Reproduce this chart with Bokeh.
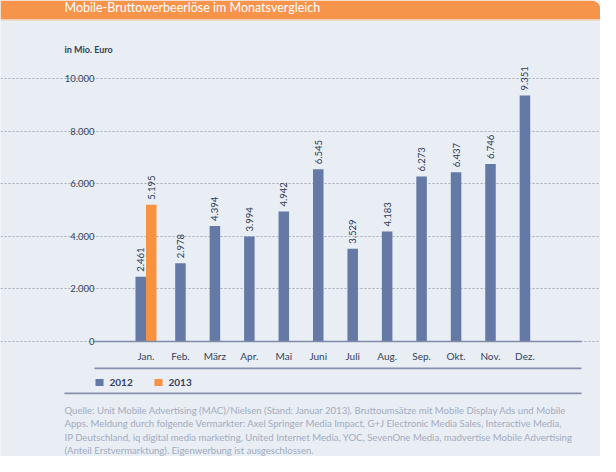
import math
from bokeh.plotting import figure
from bokeh.models import (Label, BoxAnnotation, ColumnDataSource, Range1d, FixedTicker,
                          LinearAxis, Grid)
from bokeh.core.properties import value
from bokeh.embed import file_html
from bokeh.resources import INLINE

# ---------------- data ----------------
months = ["Jan.", "Feb.", "März", "Apr.", "Mai", "Juni", "Juli", "Aug.", "Sep.", "Okt.", "Nov.", "Dez."]
values_2012 = [2461, 2978, 4394, 3994, 4942, 6545, 3529, 4183, 6273, 6437, 6746, 9351]
values_2013 = [5195]  # only January available
series_names = ["2012", "2013"]
y_ticks = [0, 2000, 4000, 6000, 8000, 10000]
title_text = "Mobile-Bruttowerbeerlöse im Monatsvergleich"
unit_text = "in Mio. Euro"
footnote_lines = [
    "Quelle: Unit Mobile Advertising (MAC)/Nielsen (Stand: Januar 2013). Bruttoumsätze mit Mobile Display Ads und Mobile",
    "Apps. Meldung durch folgende Vermarkter: Axel Springer Media Impact, G+J Electronic Media Sales, Interactive Media,",
    "IP Deutschland, iq digital media marketing, United Internet Media, YOC, SevenOne Media, madvertise Mobile Advertising",
    "(Anteil Erstvermarktung). Eigenwerbung ist ausgeschlossen.",
]

# ---------------- styling ----------------
FONT = "Lato"
BG = "#E9EDF4"
ORANGE_BAR = "#F7923E"
TITLE_BAR = "#F7944C"
BLUE = "#6479A6"
DARK = "#34435C"
AXIS = "#7F8CA6"
GRID = "#A3ABBD"
RULE = "#8692AB"
NOTE = "#A3ACBF"

W, H = 600, 456
CAT_W = 34.45          # pixels per month
JAN_PX = 145.5         # pixel centre of January
ZERO_PX = 341          # pixel row of the value 0
PX_PER_10K = 263       # pixels for 10.000
LEFT_PX, RIGHT_PX = 94, 581   # extent of the plotting area


def Xd(px):
    return (px - JAN_PX) / CAT_W


def Yd(py):
    return (ZERO_PX - py) * 10000 / PX_PER_10K


def fmt(v):
    return f"{v:,}".replace(",", ".")


p = figure(width=W, height=H, x_range=Range1d(Xd(0), Xd(W)), y_range=Range1d(Yd(H), Yd(0)),
           x_axis_type=None, y_axis_type=None, output_backend="svg", toolbar_location=None,
           min_border=0)
p.background_fill_color = BG
p.border_fill_color = BG
p.outline_line_color = None

# ---------------- grid & axes ----------------
yticker = FixedTicker(ticks=y_ticks)
xticker = FixedTicker(ticks=list(range(len(months))))
p.add_layout(Grid(dimension=1, ticker=yticker, bounds=(Xd(LEFT_PX), Xd(RIGHT_PX)),
                  grid_line_color=GRID, grid_line_dash="2 2", grid_line_width=1))

bw = 0.305
x12 = [i - bw / 2 if i < len(values_2013) else i for i in range(len(months))]
x13 = [i + bw / 2 for i in range(len(values_2013))]
src12 = ColumnDataSource(dict(x=x12, top=values_2012, lbl=[fmt(v) for v in values_2012]))
src13 = ColumnDataSource(dict(x=x13, top=values_2013, lbl=[fmt(v) for v in values_2013]))
p.vbar(x="x", top="top", bottom=0, width=bw, source=src12, fill_color=BLUE, line_color=None)
p.vbar(x="x", top="top", bottom=0, width=bw, source=src13, fill_color=ORANGE_BAR, line_color=None)
for s in (src12, src13):
    p.text(x="x", y="top", text="lbl", source=s, angle=math.pi / 2, y_offset=-5,
           text_align="left", text_baseline="middle", text_font=value(FONT),
           text_font_size="9.5px", text_color="#2C3B54")

xaxis = LinearAxis(ticker=xticker, fixed_location=0, bounds=(Xd(LEFT_PX), Xd(RIGHT_PX)),
                   major_label_overrides={i: m for i, m in enumerate(months)},
                   axis_line_color=AXIS, axis_line_width=1.5,
                   major_tick_line_color=None, minor_tick_line_color=None,
                   major_tick_in=0, major_tick_out=0, minor_tick_in=0, minor_tick_out=0,
                   major_label_standoff=8, major_label_text_font=FONT,
                   major_label_text_font_size="10px", major_label_text_color=DARK)
yaxis = LinearAxis(ticker=yticker, fixed_location=Xd(LEFT_PX),
                   major_label_overrides={t: fmt(t) for t in y_ticks},
                   axis_line_color=None, major_tick_line_color=None, minor_tick_line_color=None,
                   major_tick_in=0, major_tick_out=0, minor_tick_in=0, minor_tick_out=0,
                   major_label_standoff=0, major_label_text_font=FONT,
                   major_label_text_font_size="9.5px", major_label_text_color=DARK)
p.add_layout(xaxis, "below")
p.add_layout(yaxis, "left")


# ---------------- decorations ----------------
def box(l, r, t, b, color, radius=0):
    p.add_layout(BoxAnnotation(left=Xd(l), right=Xd(r), top=Yd(t), bottom=Yd(b),
                               fill_color=color, fill_alpha=1, line_color=None,
                               border_radius=(0, radius, 0, 0), level="underlay"))


def label(x, y, text, size, color, bold=False):
    p.add_layout(Label(x=Xd(x), y=Yd(y), text=text, text_font=FONT, text_font_size=size,
                       text_font_style="bold" if bold else "normal", text_color=color,
                       text_baseline="middle", text_align="left"))


box(0, W, 0, 19, TITLE_BAR, radius=9)
box(0, W, 19, 20.2, "#F4D6C2")
label(64, 7, title_text, "12.5px", "white")
label(64, 49, unit_text, "9px", DARK, bold=True)

box(LEFT_PX, RIGHT_PX, 367, 368.8, RULE)
box(64, RIGHT_PX, 392, 393.8, RULE)
for (sq_left, txt_x), name, col in zip(((95, 109), (154, 168)), series_names, (BLUE, ORANGE_BAR)):
    box(sq_left, sq_left + 8, 378.5, 385.5, col)
    label(txt_x, 382, name, "10px", DARK, bold=True)
for k, line in enumerate(footnote_lines):
    label(64, 410 + k * 13.3, line, "9.6px", NOTE)

open("out.html", "w").write(file_html(p, INLINE))
